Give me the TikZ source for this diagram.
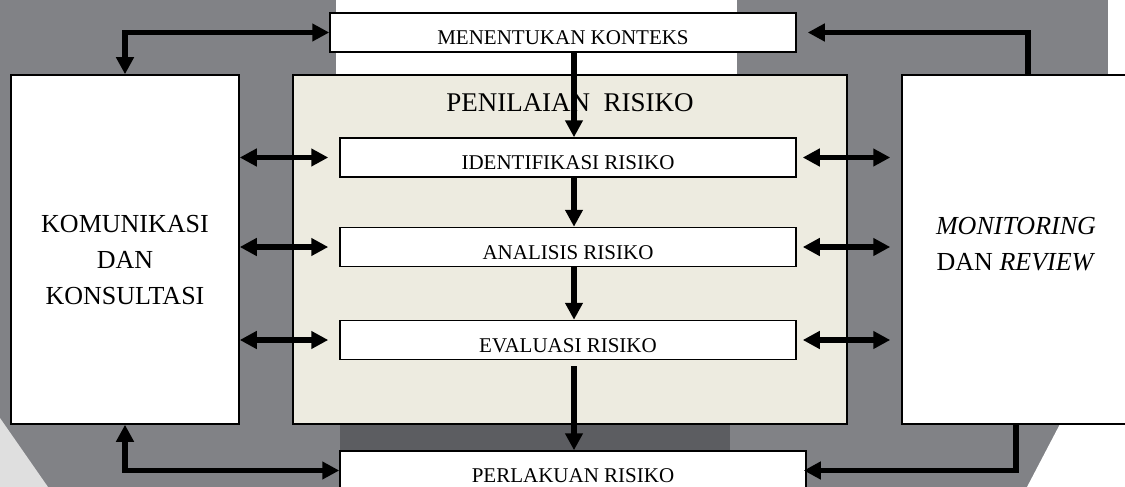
\documentclass[tikz,border=0pt]{standalone}
\usepackage{fontspec}
\setmainfont{Liberation Serif}
\usetikzlibrary{arrows.meta}
\definecolor{bggrey}{RGB}{129,130,134}
\definecolor{bandgrey}{RGB}{92,93,97}
\definecolor{paper}{RGB}{237,235,224}

\begin{document}
\begin{tikzpicture}[
    x=1pt, y=-1pt,
    >={Triangle[length=17pt,width=17pt]},
    stepbox/.style={draw, line width=1.5pt, fill=white, minimum width=456pt, minimum height=39pt, inner sep=0pt, text height=24pt, text depth=0pt, font=\fontsize{21}{25}\selectfont},
    sidebox/.style={draw, line width=1.5pt, fill=white, minimum width=228pt, minimum height=349pt},
    sidetext/.style={align=center, inner sep=0pt, font=\fontsize{26}{36}\selectfont},
    flow/.style={->, line width=5.5pt},
    both/.style={<->, line width=5.5pt}
]
    \clip (0,0) rectangle (1125,487);

    % background of the page
    \fill[bggrey] (0,0) rectangle (1125,487);
    \fill[white] (336,0) rectangle (737,80);
    \fill[white] (1108,0) rectangle (1125,80);
    \fill[white] (1060,424) -- (1125,424) -- (1125,487) -- (1027,487) -- cycle;
    \fill[gray!25] (0,418) -- (48,487) -- (0,487) -- cycle;
    \fill[bandgrey] (340,424) rectangle (730,487);

    % risk assessment frame
    \node[draw, line width=1.5pt, fill=paper, minimum width=554pt, minimum height=349pt] (pen) at (570,249.5) {};
    \node[font=\fontsize{27}{30}\selectfont, inner sep=0pt] (penlabel) at (570,103) {PENILAIAN~~RISIKO};

    \node[sidebox] (kom) at (125,249.5) {};
    \node[sidetext] (komtxt) at (125,260) {KOMUNIKASI\\DAN\\KONSULTASI};
    \node[sidebox] (mon) at (1016,249.5) {};
    \node[sidetext] (montxt) at (1016,244) {\textit{MONITORING}\\DAN \textit{REVIEW}};

    \node[stepbox, minimum width=466pt] (ctx) at (563,32.5) {MENENTUKAN KONTEKS};
    \node[stepbox] (ide) at (568,157.5) {IDENTIFIKASI RISIKO};
    \node[stepbox] (ana) at (568,247) {ANALISIS RISIKO};
    \node[stepbox] (eva) at (568,340) {EVALUASI RISIKO};
    \node[stepbox, minimum width=466pt] (per) at (573,470.5) {PERLAKUAN RISIKO};

    \coordinate (spine) at (574,0);

    % main flow
    \draw[flow] (ctx.south -| spine) -- (ide.north -| spine);
    \draw[flow] (ide.south -| spine) -- (ana.north -| spine);
    \draw[flow] (ana.south -| spine) -- (eva.north -| spine);
    \draw[flow, shorten <=6pt] (eva.south -| spine) -- (per.north -| spine);

    % communication and monitoring links
    \draw[both] (ctx.west) -| (kom.north);
    \draw[both] (kom.south) |- (per.west);
    \draw[flow, shorten >=11pt] ([xshift=12pt]mon.north) |- (ctx.east);
    \draw[flow, shorten >=-3pt] (mon.south) |- (per.east);

    \foreach \s in {ide, ana, eva} {
        \draw[both, shorten >=11pt] (kom.east |- \s) -- (\s.west);
        \draw[both, shorten <=6pt, shorten >=11pt] (\s.east) -- (mon.west |- \s);
    }

\end{tikzpicture}
\end{document}
